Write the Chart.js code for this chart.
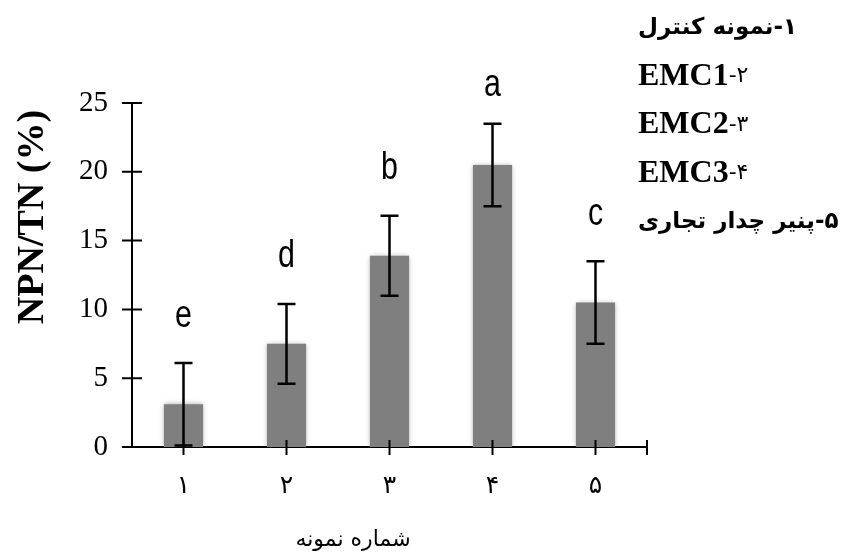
<!DOCTYPE html>
<html>
<head>
<meta charset="utf-8">
<script src="https://cdn.jsdelivr.net/npm/chart.js@4/dist/chart.umd.min.js"></script>
<style>
  html, body { margin: 0; padding: 0; background: #fff; }
  #wrap { width: 860px; height: 557px; }
</style>
</head>
<body>
<div id="wrap"><canvas id="grafico"></canvas></div>
<script>
/* Datos del gráfico */
const categorias = ["۱", "۲", "۳", "۴", "۵"];
const valores = [3.1, 7.5, 13.9, 20.5, 10.5];
const errores = [3.0, 2.9, 2.9, 3.0, 3.0];
const letras = ["e", "d", "b", "a", "c"];
const ticksY = [0, 5, 10, 15, 20, 25];
const leyenda = ["۱-نمونه کنترل", "۲-EMC1", "۳-EMC2", "۴-EMC3", "۵-پنیر چدار تجاری"];
const tituloX = "شماره نمونه";
const tituloY = "NPN/TN (%)";

const persa = "'DejaVu Sans', sans-serif";
const serif = "'Liberation Serif', 'Times New Roman', serif";

// Sombra suave de las barras
const sombra = {
  id: "sombra",
  beforeDatasetsDraw(chart) {
    const ctx = chart.ctx;
    ctx.save();
    ctx.shadowColor = "rgba(0,0,0,0.35)";
    ctx.shadowBlur = 5;
  },
  afterDatasetsDraw(chart) {
    chart.ctx.restore();
  }
};

// Plugin: barras de error, letras, marcas de ejes, títulos y leyenda
const extras = {
  id: "extras",
  afterDatasetsDraw(chart) {
    const ctx = chart.ctx;
    const y = chart.scales.y;
    const meta = chart.getDatasetMeta(0);
    ctx.save();
    ctx.strokeStyle = "#000";
    ctx.lineWidth = 2.5;
    meta.data.forEach((bar, i) => {
      const top = y.getPixelForValue(valores[i] + errores[i]);
      const bot = y.getPixelForValue(valores[i] - errores[i]);
      ctx.beginPath();
      ctx.moveTo(bar.x, top); ctx.lineTo(bar.x, bot);
      ctx.moveTo(bar.x - 9, top); ctx.lineTo(bar.x + 9, top);
      ctx.moveTo(bar.x - 9, bot); ctx.lineTo(bar.x + 9, bot);
      ctx.stroke();
      // letra de significancia
      ctx.save();
      ctx.translate(bar.x, Math.max(top - 47, 86));
      ctx.scale(0.8, 1);
      ctx.fillStyle = "#000";
      ctx.font = "38px 'Liberation Sans', Arial, sans-serif";
      ctx.textAlign = "center";
      ctx.textBaseline = "middle";
      ctx.fillText(letras[i], 0, 0);
      ctx.restore();
    });
    ctx.restore();
  },
  afterDraw(chart) {
    const ctx = chart.ctx;
    const y = chart.scales.y;
    const area = chart.chartArea;
    const meta = chart.getDatasetMeta(0);
    ctx.save();
    ctx.strokeStyle = "#000";
    ctx.lineWidth = 2;
    ctx.beginPath();
    ticksY.forEach((v) => {
      const py = y.getPixelForValue(v);
      ctx.moveTo(area.left - 10, py); ctx.lineTo(area.left + 10, py);
    });
    meta.data.forEach((bar) => {
      ctx.moveTo(bar.x, area.bottom - 7); ctx.lineTo(bar.x, area.bottom + 8);
    });
    ctx.moveTo(area.right, area.bottom - 7); ctx.lineTo(area.right, area.bottom + 8);
    ctx.stroke();

    ctx.fillStyle = "#000";
    // título eje Y
    ctx.save();
    ctx.translate(33, 217);
    ctx.rotate(-Math.PI / 2);
    ctx.font = "bold 38px " + serif;
    ctx.textAlign = "center";
    ctx.textBaseline = "middle";
    ctx.fillText(tituloY, 0, 0);
    ctx.restore();

    ctx.textBaseline = "middle";
    ctx.direction = "rtl";

    // título eje X
    ctx.font = "22px " + persa;
    ctx.textAlign = "center";
    ctx.fillText(tituloX, 353, 540);

    // leyenda de muestras (alineada a la izquierda)
    ctx.textAlign = "left";
    leyenda.forEach((txt, i) => {
      const ly = 28 + i * 48.5;
      if (/EMC/.test(txt)) {
        const num = txt.split("-")[0];
        const nombre = txt.split("-")[1];
        ctx.direction = "ltr";
        ctx.font = "bold 32px " + serif;
        ctx.fillText(nombre, 638, ly);
        const w = ctx.measureText(nombre).width;
        ctx.font = "22px " + persa;
        ctx.fillText("-" + num, 638 + w, ly);
        ctx.direction = "rtl";
      } else {
        ctx.font = "bold 23px " + persa;
        ctx.fillText(txt, 638, ly);
      }
    });
    ctx.restore();
  }
};

new Chart(document.getElementById("grafico"), {
  type: "bar",
  data: {
    labels: categorias,
    datasets: [{
      data: valores,
      backgroundColor: "#7f7f7f",
      borderWidth: 0,
      categoryPercentage: 1,
      barPercentage: 0.38
    }]
  },
  options: {
    responsive: true,
    maintainAspectRatio: false,
    animation: false,
    layout: { padding: { top: 103, right: 213, left: 0, bottom: 0 } },
    plugins: { legend: { display: false }, tooltip: { enabled: false } },
    scales: {
      x: {
        grid: { display: false, drawTicks: false },
        border: { display: true, color: "#000", width: 2 },
        ticks: { color: "#000", font: { size: 25, family: persa }, padding: 24 },
        afterFit: (s) => { s.height = 110; }
      },
      y: {
        min: 0,
        max: 25,
        grid: { display: false, drawTicks: false },
        border: { display: true, color: "#000", width: 2 },
        ticks: { stepSize: 5, color: "#000", font: { size: 29, family: serif }, padding: 24 },
        afterFit: (s) => { s.width = 132; }
      }
    }
  },
  plugins: [sombra, extras]
});
</script>
</body>
</html>
